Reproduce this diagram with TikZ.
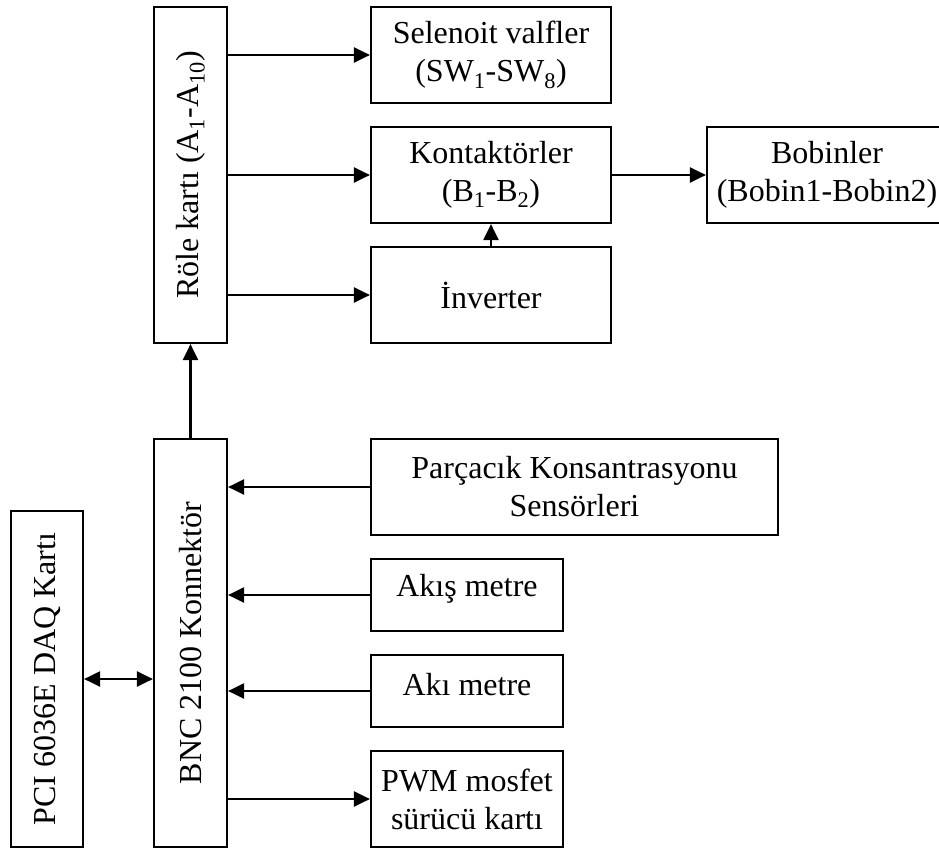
\documentclass[tikz,border=0pt]{standalone}
\usepackage{fontspec}
\setmainfont{Liberation Serif}
\usetikzlibrary{arrows.meta}
\begin{document}
\begin{tikzpicture}[x=1pt,y=-1pt,
  blk/.style={draw, line width=2.2pt, inner sep=0pt, align=center,
    font=\fontsize{32}{38}\selectfont},
  con/.style={line width=2.2pt, -{Triangle[length=16pt,width=15pt]}},
  bicon/.style={line width=2.2pt, {Triangle[length=16pt,width=15pt]}-{Triangle[length=16pt,width=15pt]}}]
\useasboundingbox (0,0) rectangle (939,850);
\clip (0,0) rectangle (939,850);
\node[blk, minimum width=73pt, minimum height=336pt] (role) at (190.5,175) {};
\node[rotate=90, font=\fontsize{32}{38}\selectfont] (roletxt) at (role.center) {Röle kartı (A\textsubscript{1}-A\textsubscript{10})};
\node[blk, minimum width=240pt, minimum height=96pt] (sel) at (491,55) {Selenoit valfler\\(SW\textsubscript{1}-SW\textsubscript{8})};
\node[blk, minimum width=240pt, minimum height=96pt] (kon) at (491,175) {Kontaktörler\\(B\textsubscript{1}-B\textsubscript{2})};
\node[blk, minimum width=240pt, minimum height=96pt] (inv) at (491,295) {İnverter};
\node[blk, minimum width=240pt, minimum height=96pt] (bob) at (827,175) {Bobinler\\(Bobin1-Bobin2)};
\node[blk, minimum width=73pt, minimum height=408pt] (bnc) at (190.5,643) {};
\node[rotate=90, font=\fontsize{32}{38}\selectfont] (bnctxt) at (bnc.center) {BNC 2100 Konnektör};
\node[blk, minimum width=72pt, minimum height=336pt] (pci) at (47,679) {};
\node[rotate=90, font=\fontsize{32}{38}\selectfont] (pcitxt) at (pci.center) {PCI 6036E DAQ Kartı};
\node[blk, minimum width=407pt, minimum height=96pt] (par) at (574.5,487) {Parçacık Konsantrasyonu\\Sensörleri};
\node[blk, minimum width=192pt, minimum height=72pt] (akis) at (467,595) {};
\node[font=\fontsize{32}{38}\selectfont] (akistxt) at (467,589) {Akış metre};
\node[blk, minimum width=192pt, minimum height=72pt] (aki) at (467,691) {};
\node[font=\fontsize{32}{38}\selectfont] (akitxt) at (467,685) {Akı metre};
\node[blk, minimum width=192pt, minimum height=96pt] (pwm) at (467,799) {PWM mosfet\\sürücü kartı};
\draw[con] (role.east |- sel.west) -- (sel.west);
\draw[con] (role.east |- kon.west) -- (kon.west);
\draw[con] (role.east |- inv.west) -- (inv.west);
\draw[con] (kon.east) -- (bob.west);
\draw[con] (inv.north) -- (kon.south);
\draw[con] (bnc.north) -- (role.south);
\draw[bicon] (pci.east) -- (pci.east -| bnc.west);
\draw[con] (par.west) -- (par.west -| bnc.east);
\draw[con] (akis.west) -- (akis.west -| bnc.east);
\draw[con] (aki.west) -- (aki.west -| bnc.east);
\draw[con] (bnc.east |- pwm.west) -- (pwm.west);
\end{tikzpicture}
\end{document}
